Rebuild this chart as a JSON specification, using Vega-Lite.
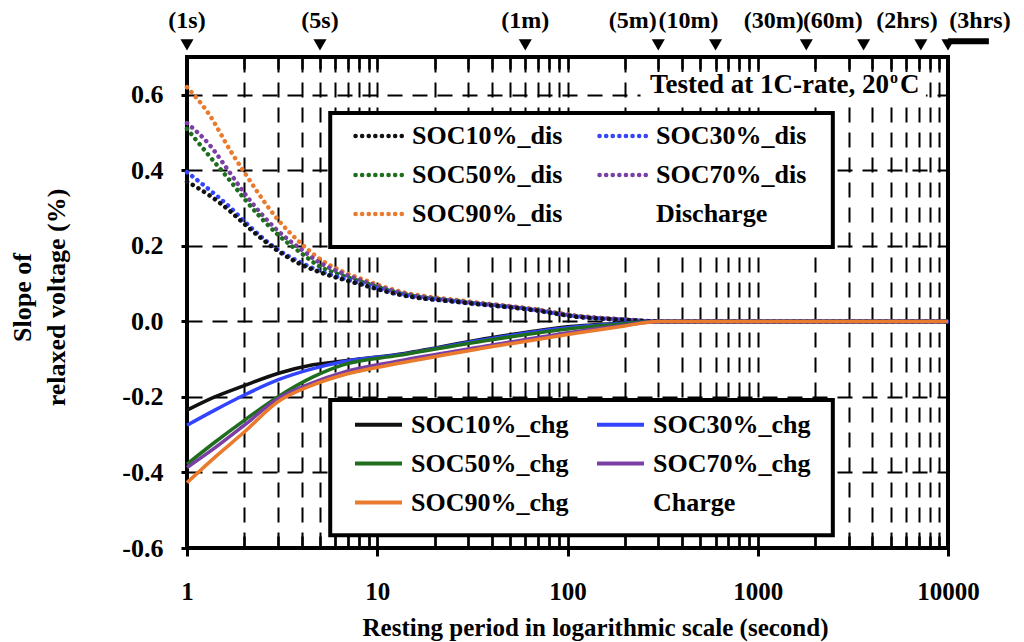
{
  "$schema": "https://vega.github.io/schema/vega-lite/v6.json",
  "width": 761,
  "height": 491,
  "autosize": {"type": "none"},
  "padding": {"left": 187, "top": 57, "right": 76, "bottom": 94},
  "background": "white",
  "config": {
    "view": {"stroke": "black", "strokeWidth": 4},
    "font": "'Liberation Serif', 'Times New Roman', 'DejaVu Serif', serif",
    "text": {"font": "'Liberation Serif', 'Times New Roman', 'DejaVu Serif', serif"},
    "axis": {
      "labelFont": "'Liberation Serif', 'Times New Roman', 'DejaVu Serif', serif", "labelFontWeight": "bold", "labelFontSize": 25, "labelColor": "black",
      "titleFont": "'Liberation Serif', 'Times New Roman', 'DejaVu Serif', serif", "titleFontWeight": "bold", "titleFontSize": 25, "titleColor": "black",
      "tickColor": "black", "domain": false
    },
    "legend": {"labelFont": "'Liberation Serif', 'Times New Roman', 'DejaVu Serif', serif", "labelFontWeight": "bold", "labelColor": "black"}
  },
  "datasets": {
    "dis": [
      {"t": 1, "v": 0.62, "s": "SOC90%_dis"}, {"t": 1.3, "v": 0.55, "s": "SOC90%_dis"}, {"t": 1.7, "v": 0.45, "s": "SOC90%_dis"}, {"t": 2, "v": 0.395, "s": "SOC90%_dis"}, {"t": 3, "v": 0.27, "s": "SOC90%_dis"}, {"t": 4, "v": 0.205, "s": "SOC90%_dis"}, {"t": 5, "v": 0.165, "s": "SOC90%_dis"}, {"t": 6.5, "v": 0.133, "s": "SOC90%_dis"}, {"t": 8.3, "v": 0.112, "s": "SOC90%_dis"}, {"t": 13, "v": 0.08, "s": "SOC90%_dis"}, {"t": 28, "v": 0.055, "s": "SOC90%_dis"}, {"t": 66, "v": 0.033, "s": "SOC90%_dis"}, {"t": 113, "v": 0.015, "s": "SOC90%_dis"}, {"t": 200, "v": 0.005, "s": "SOC90%_dis"}, {"t": 300, "v": 0, "s": "SOC90%_dis"}, {"t": 1000, "v": 0, "s": "SOC90%_dis"}, {"t": 10000, "v": 0, "s": "SOC90%_dis"},
      {"t": 1, "v": 0.525, "s": "SOC70%_dis"}, {"t": 1.3, "v": 0.47, "s": "SOC70%_dis"}, {"t": 1.7, "v": 0.39, "s": "SOC70%_dis"}, {"t": 2, "v": 0.34, "s": "SOC70%_dis"}, {"t": 3, "v": 0.24, "s": "SOC70%_dis"}, {"t": 4, "v": 0.19, "s": "SOC70%_dis"}, {"t": 5, "v": 0.155, "s": "SOC70%_dis"}, {"t": 6.5, "v": 0.128, "s": "SOC70%_dis"}, {"t": 8.3, "v": 0.108, "s": "SOC70%_dis"}, {"t": 13, "v": 0.077, "s": "SOC70%_dis"}, {"t": 28, "v": 0.053, "s": "SOC70%_dis"}, {"t": 66, "v": 0.032, "s": "SOC70%_dis"}, {"t": 113, "v": 0.014, "s": "SOC70%_dis"}, {"t": 200, "v": 0.005, "s": "SOC70%_dis"}, {"t": 300, "v": 0, "s": "SOC70%_dis"}, {"t": 1000, "v": 0, "s": "SOC70%_dis"}, {"t": 10000, "v": 0, "s": "SOC70%_dis"},
      {"t": 1, "v": 0.51, "s": "SOC50%_dis"}, {"t": 1.3, "v": 0.44, "s": "SOC50%_dis"}, {"t": 1.7, "v": 0.37, "s": "SOC50%_dis"}, {"t": 2, "v": 0.325, "s": "SOC50%_dis"}, {"t": 3, "v": 0.23, "s": "SOC50%_dis"}, {"t": 4, "v": 0.18, "s": "SOC50%_dis"}, {"t": 5, "v": 0.145, "s": "SOC50%_dis"}, {"t": 6.5, "v": 0.122, "s": "SOC50%_dis"}, {"t": 8.3, "v": 0.104, "s": "SOC50%_dis"}, {"t": 13, "v": 0.075, "s": "SOC50%_dis"}, {"t": 28, "v": 0.052, "s": "SOC50%_dis"}, {"t": 66, "v": 0.031, "s": "SOC50%_dis"}, {"t": 113, "v": 0.013, "s": "SOC50%_dis"}, {"t": 200, "v": 0.004, "s": "SOC50%_dis"}, {"t": 300, "v": 0, "s": "SOC50%_dis"}, {"t": 1000, "v": 0, "s": "SOC50%_dis"}, {"t": 10000, "v": 0, "s": "SOC50%_dis"},
      {"t": 1, "v": 0.395, "s": "SOC30%_dis"}, {"t": 1.3, "v": 0.35, "s": "SOC30%_dis"}, {"t": 1.7, "v": 0.3, "s": "SOC30%_dis"}, {"t": 2, "v": 0.265, "s": "SOC30%_dis"}, {"t": 3, "v": 0.19, "s": "SOC30%_dis"}, {"t": 4, "v": 0.155, "s": "SOC30%_dis"}, {"t": 5, "v": 0.133, "s": "SOC30%_dis"}, {"t": 6.5, "v": 0.115, "s": "SOC30%_dis"}, {"t": 8.3, "v": 0.099, "s": "SOC30%_dis"}, {"t": 13, "v": 0.072, "s": "SOC30%_dis"}, {"t": 28, "v": 0.05, "s": "SOC30%_dis"}, {"t": 66, "v": 0.03, "s": "SOC30%_dis"}, {"t": 113, "v": 0.012, "s": "SOC30%_dis"}, {"t": 200, "v": 0.004, "s": "SOC30%_dis"}, {"t": 300, "v": 0, "s": "SOC30%_dis"}, {"t": 1000, "v": 0, "s": "SOC30%_dis"}, {"t": 10000, "v": 0, "s": "SOC30%_dis"},
      {"t": 1, "v": 0.37, "s": "SOC10%_dis"}, {"t": 1.3, "v": 0.335, "s": "SOC10%_dis"}, {"t": 1.7, "v": 0.29, "s": "SOC10%_dis"}, {"t": 2, "v": 0.258, "s": "SOC10%_dis"}, {"t": 3, "v": 0.187, "s": "SOC10%_dis"}, {"t": 4, "v": 0.15, "s": "SOC10%_dis"}, {"t": 5, "v": 0.13, "s": "SOC10%_dis"}, {"t": 6.5, "v": 0.112, "s": "SOC10%_dis"}, {"t": 8.3, "v": 0.097, "s": "SOC10%_dis"}, {"t": 13, "v": 0.071, "s": "SOC10%_dis"}, {"t": 28, "v": 0.05, "s": "SOC10%_dis"}, {"t": 66, "v": 0.03, "s": "SOC10%_dis"}, {"t": 113, "v": 0.012, "s": "SOC10%_dis"}, {"t": 200, "v": 0.004, "s": "SOC10%_dis"}, {"t": 300, "v": 0, "s": "SOC10%_dis"}, {"t": 1000, "v": 0, "s": "SOC10%_dis"}, {"t": 10000, "v": 0, "s": "SOC10%_dis"}
    ],
    "chg": [
      {"t": 1, "v": -0.235, "s": "SOC10%_chg"}, {"t": 1.4, "v": -0.2, "s": "SOC10%_chg"}, {"t": 2, "v": -0.17, "s": "SOC10%_chg"}, {"t": 3, "v": -0.138, "s": "SOC10%_chg"}, {"t": 4.6, "v": -0.115, "s": "SOC10%_chg"}, {"t": 6.6, "v": -0.105, "s": "SOC10%_chg"}, {"t": 13, "v": -0.087, "s": "SOC10%_chg"}, {"t": 35, "v": -0.048, "s": "SOC10%_chg"}, {"t": 108, "v": -0.013, "s": "SOC10%_chg"}, {"t": 200, "v": -0.004, "s": "SOC10%_chg"}, {"t": 300, "v": 0, "s": "SOC10%_chg"}, {"t": 1000, "v": 0, "s": "SOC10%_chg"}, {"t": 10000, "v": 0, "s": "SOC10%_chg"},
      {"t": 1, "v": -0.275, "s": "SOC30%_chg"}, {"t": 1.4, "v": -0.235, "s": "SOC30%_chg"}, {"t": 2, "v": -0.195, "s": "SOC30%_chg"}, {"t": 3, "v": -0.155, "s": "SOC30%_chg"}, {"t": 4.6, "v": -0.125, "s": "SOC30%_chg"}, {"t": 6.6, "v": -0.107, "s": "SOC30%_chg"}, {"t": 13, "v": -0.088, "s": "SOC30%_chg"}, {"t": 35, "v": -0.05, "s": "SOC30%_chg"}, {"t": 108, "v": -0.015, "s": "SOC30%_chg"}, {"t": 200, "v": -0.005, "s": "SOC30%_chg"}, {"t": 300, "v": 0, "s": "SOC30%_chg"}, {"t": 1000, "v": 0, "s": "SOC30%_chg"}, {"t": 10000, "v": 0, "s": "SOC30%_chg"},
      {"t": 1, "v": -0.378, "s": "SOC50%_chg"}, {"t": 1.4, "v": -0.32, "s": "SOC50%_chg"}, {"t": 2, "v": -0.262, "s": "SOC50%_chg"}, {"t": 3, "v": -0.2, "s": "SOC50%_chg"}, {"t": 4.6, "v": -0.147, "s": "SOC50%_chg"}, {"t": 6.6, "v": -0.115, "s": "SOC50%_chg"}, {"t": 13, "v": -0.09, "s": "SOC50%_chg"}, {"t": 35, "v": -0.053, "s": "SOC50%_chg"}, {"t": 108, "v": -0.018, "s": "SOC50%_chg"}, {"t": 200, "v": -0.006, "s": "SOC50%_chg"}, {"t": 300, "v": 0, "s": "SOC50%_chg"}, {"t": 1000, "v": 0, "s": "SOC50%_chg"}, {"t": 10000, "v": 0, "s": "SOC50%_chg"},
      {"t": 1, "v": -0.387, "s": "SOC70%_chg"}, {"t": 1.4, "v": -0.335, "s": "SOC70%_chg"}, {"t": 2, "v": -0.275, "s": "SOC70%_chg"}, {"t": 3, "v": -0.205, "s": "SOC70%_chg"}, {"t": 4.6, "v": -0.162, "s": "SOC70%_chg"}, {"t": 6.6, "v": -0.135, "s": "SOC70%_chg"}, {"t": 13, "v": -0.105, "s": "SOC70%_chg"}, {"t": 35, "v": -0.068, "s": "SOC70%_chg"}, {"t": 108, "v": -0.028, "s": "SOC70%_chg"}, {"t": 200, "v": -0.01, "s": "SOC70%_chg"}, {"t": 300, "v": 0, "s": "SOC70%_chg"}, {"t": 1000, "v": 0, "s": "SOC70%_chg"}, {"t": 10000, "v": 0, "s": "SOC70%_chg"},
      {"t": 1, "v": -0.427, "s": "SOC90%_chg"}, {"t": 1.4, "v": -0.36, "s": "SOC90%_chg"}, {"t": 2, "v": -0.293, "s": "SOC90%_chg"}, {"t": 3, "v": -0.213, "s": "SOC90%_chg"}, {"t": 4.6, "v": -0.168, "s": "SOC90%_chg"}, {"t": 6.6, "v": -0.142, "s": "SOC90%_chg"}, {"t": 13, "v": -0.111, "s": "SOC90%_chg"}, {"t": 35, "v": -0.072, "s": "SOC90%_chg"}, {"t": 108, "v": -0.032, "s": "SOC90%_chg"}, {"t": 200, "v": -0.012, "s": "SOC90%_chg"}, {"t": 300, "v": 0, "s": "SOC90%_chg"}, {"t": 1000, "v": 0, "s": "SOC90%_chg"}, {"t": 10000, "v": 0, "s": "SOC90%_chg"}
    ],
    "marks": [
      {"t": 1, "lx": 1, "lab": "(1s)"},
      {"t": 5, "lx": 5, "lab": "(5s)"},
      {"t": 60, "lx": 60, "lab": "(1m)"},
      {"t": 300, "lx": 220, "lab": "(5m)"},
      {"t": 600, "lx": 433, "lab": "(10m)"},
      {"t": 1800, "lx": 1213, "lab": "(30m)"},
      {"t": 3600, "lx": 2482, "lab": "(60m)"},
      {"t": 7200, "lx": 6085, "lab": "(2hrs)"},
      {"t": 10000, "lx": 14730, "lab": "(3hrs)"}
    ],
    "boxes": [
      {"x1": 5.66, "x2": 2481, "y1": 0.552, "y2": 0.197},
      {"x1": 5.66, "x2": 2481, "y1": -0.208, "y2": -0.566}
    ],
    "notebg": [
      {"x1": 242, "x2": 7656, "y1": 0.66, "y2": 0.581}
    ]
  },
  "layer": [
    {
      "data": {"name": "boxes"},
      "mark": {"type": "rect", "fill": "white", "stroke": "black", "strokeWidth": 4},
      "encoding": {
        "x": {"field": "x1", "type": "quantitative", "scale": {"type": "log", "domain": [1, 10000]}, "axis": null},
        "x2": {"field": "x2"},
        "y": {"field": "y1", "type": "quantitative", "scale": {"domain": [-0.6, 0.7], "nice": false, "zero": false}, "axis": null},
        "y2": {"field": "y2"}
      }
    },
    {
      "data": {"name": "notebg"},
      "mark": {"type": "rect", "fill": "white", "strokeWidth": 0},
      "encoding": {
        "x": {"field": "x1", "type": "quantitative", "scale": {"type": "log", "domain": [1, 10000]}, "axis": null},
        "x2": {"field": "x2"},
        "y": {"field": "y1", "type": "quantitative", "scale": {"domain": [-0.6, 0.7], "nice": false, "zero": false}, "axis": null},
        "y2": {"field": "y2"}
      }
    },
    {
      "data": {"name": "dis"},
      "mark": {"type": "line", "strokeDash": [0.1, 6.5], "strokeCap": "round", "strokeWidth": 4.5, "interpolate": "monotone"},
      "encoding": {
        "x": {
          "field": "t", "type": "quantitative",
          "scale": {"type": "log", "domain": [1, 10000]},
          "axis": {
            "orient": "bottom", "values": [1, 10, 100, 1000, 10000], "format": "d",
            "tickSize": 8, "tickWidth": 3, "labelPadding": 23, "labelFlush": false, "labelOverlap": false, "grid": false,
            "title": "Resting period in logarithmic scale (second)",
            "titleX": 408, "titleY": 87, "titleBaseline": "alphabetic", "titleAlign": "center"
          }
        },
        "y": {
          "field": "v", "type": "quantitative",
          "scale": {"domain": [-0.6, 0.7], "nice": false, "zero": false},
          "axis": {
            "orient": "left", "values": [-0.6, -0.4, -0.2, 0, 0.2, 0.4, 0.6],
            "labelExpr": "datum.value < 0 ? '-' + format(-datum.value, '.1f') : format(datum.value, '.1f')",
            "labelFontSize": 26,
            "tickSize": 6, "tickWidth": 3, "labelPadding": 18,
            "grid": true, "gridColor": "black", "gridDash": [15, 10], "gridWidth": 2,
            "title": ["Slope of", "relaxed voltage (%)"], "titleFontSize": 26,
            "titleX": -152, "titleY": 240, "titleAngle": -90, "titleBaseline": "bottom", "titleAlign": "center", "titleLineHeight": 34
          }
        },
        "color": {
          "field": "s", "type": "nominal",
          "scale": {
            "domain": ["SOC10%_dis", "SOC30%_dis", "SOC50%_dis", "SOC70%_dis", "SOC90%_dis", "Discharge"],
            "range": ["#111111", "#3344ff", "#1e6e1e", "#7a3fa5", "#ea7a2c", "white"]
          },
          "legend": {
            "title": null, "orient": "none", "direction": "horizontal", "legendX": 166, "legendY": 53, "columns": 2,
            "symbolType": "stroke", "symbolSize": 2209, "symbolStrokeWidth": 4.5, "symbolDash": [0.1, 6.5],
            "labelFontSize": 26, "labelOffset": 7, "labelLimit": 400,
            "columnPadding": 27, "rowPadding": -6, "padding": 0,
            "encode": {"symbols": {"update": {"strokeCap": {"value": "round"}}}}
          }
        }
      }
    },
    {
      "data": {"name": "chg"},
      "mark": {"type": "line", "strokeWidth": 3.5, "interpolate": "monotone"},
      "encoding": {
        "x": {
          "field": "t", "type": "quantitative",
          "scale": {"type": "log", "domain": [1, 10000]},
          "axis": {
            "orient": "bottom",
            "values": [2, 3, 4, 5, 6, 7, 8, 9, 10, 20, 30, 40, 50, 60, 70, 80, 90, 100, 200, 300, 400, 500, 600, 700, 800, 900, 1000, 2000, 3000, 4000, 5000, 6000, 7000, 8000, 9000],
            "tickSize": -12, "tickWidth": 2.5, "labels": false,
            "grid": true, "gridColor": "black", "gridDash": [15, 10], "gridWidth": 2, "title": null
          }
        },
        "y": {"field": "v", "type": "quantitative", "scale": {"domain": [-0.6, 0.7], "nice": false, "zero": false}, "axis": null},
        "color": {
          "field": "s", "type": "nominal",
          "scale": {
            "domain": ["SOC10%_chg", "SOC30%_chg", "SOC50%_chg", "SOC70%_chg", "SOC90%_chg", "Charge"],
            "range": ["#111111", "#3344ff", "#1e6e1e", "#7a3fa5", "#ea7a2c", "white"]
          },
          "legend": {
            "title": null, "orient": "none", "direction": "horizontal", "legendX": 166, "legendY": 342, "columns": 2,
            "symbolType": "stroke", "symbolSize": 2209, "symbolStrokeWidth": 4,
            "labelFontSize": 26, "labelOffset": 7, "labelLimit": 400,
            "columnPadding": 20, "rowPadding": -7.5, "padding": 0
          }
        }
      }
    },
    {
      "data": {"name": "marks"},
      "mark": {"type": "point", "shape": "triangle-down", "filled": true, "color": "black", "size": 170, "opacity": 1, "clip": false},
      "encoding": {
        "x": {
          "field": "t", "type": "quantitative",
          "scale": {"type": "log", "domain": [1, 10000]},
          "axis": {
            "orient": "top",
            "values": [2, 3, 4, 5, 6, 7, 8, 9, 10, 20, 30, 40, 50, 60, 70, 80, 90, 100, 200, 300, 400, 500, 600, 700, 800, 900, 1000, 2000, 3000, 4000, 5000, 6000, 7000, 8000, 9000],
            "tickSize": -12, "tickWidth": 2.5, "labels": false, "grid": false, "title": null
          }
        },
        "y": {"datum": 0.732, "type": "quantitative", "scale": {"domain": [-0.6, 0.7], "nice": false, "zero": false}, "axis": null}
      }
    },
    {
      "data": {"name": "marks"},
      "mark": {"type": "text", "fontWeight": "bold", "fontSize": 24, "color": "black", "baseline": "middle", "align": "center", "clip": false},
      "encoding": {
        "x": {"field": "lx", "type": "quantitative", "scale": {"type": "log", "domain": [1, 10000]}, "axis": null},
        "y": {"datum": 0.795, "type": "quantitative", "scale": {"domain": [-0.6, 0.7], "nice": false, "zero": false}, "axis": null},
        "text": {"field": "lab"}
      }
    },
    {
      "data": {"values": [{"note": "Tested at 1C-rate, 20", "sup": "o", "unit": "C"}]},
      "layer": [
        {
          "mark": {"type": "text", "fontWeight": "bold", "fontSize": 27, "color": "black", "baseline": "alphabetic", "align": "right"},
          "encoding": {"text": {"field": "note"}}
        },
        {
          "mark": {"type": "text", "fontWeight": "bold", "fontSize": 16, "color": "black", "baseline": "alphabetic", "align": "left", "dx": 1, "dy": -10},
          "encoding": {"text": {"field": "sup"}}
        },
        {
          "mark": {"type": "text", "fontWeight": "bold", "fontSize": 27, "color": "black", "baseline": "alphabetic", "align": "left", "dx": 11},
          "encoding": {"text": {"field": "unit"}}
        }
      ],
      "encoding": {
        "x": {"datum": 4893, "type": "quantitative", "scale": {"type": "log", "domain": [1, 10000]}, "axis": null},
        "y": {"datum": 0.605, "type": "quantitative", "scale": {"domain": [-0.6, 0.7], "nice": false, "zero": false}, "axis": null}
      }
    },
    {
      "data": {"values": [{"a": 10000, "b": 16400}]},
      "mark": {"type": "rule", "color": "black", "strokeWidth": 6, "clip": false},
      "encoding": {
        "x": {"field": "a", "type": "quantitative", "scale": {"type": "log", "domain": [1, 10000]}, "axis": null},
        "x2": {"field": "b"},
        "y": {"datum": 0.742, "type": "quantitative", "scale": {"domain": [-0.6, 0.7], "nice": false, "zero": false}, "axis": null}
      }
    }
  ],
  "resolve": {"scale": {"color": "independent"}, "axis": {"x": "independent", "y": "independent"}}
}
